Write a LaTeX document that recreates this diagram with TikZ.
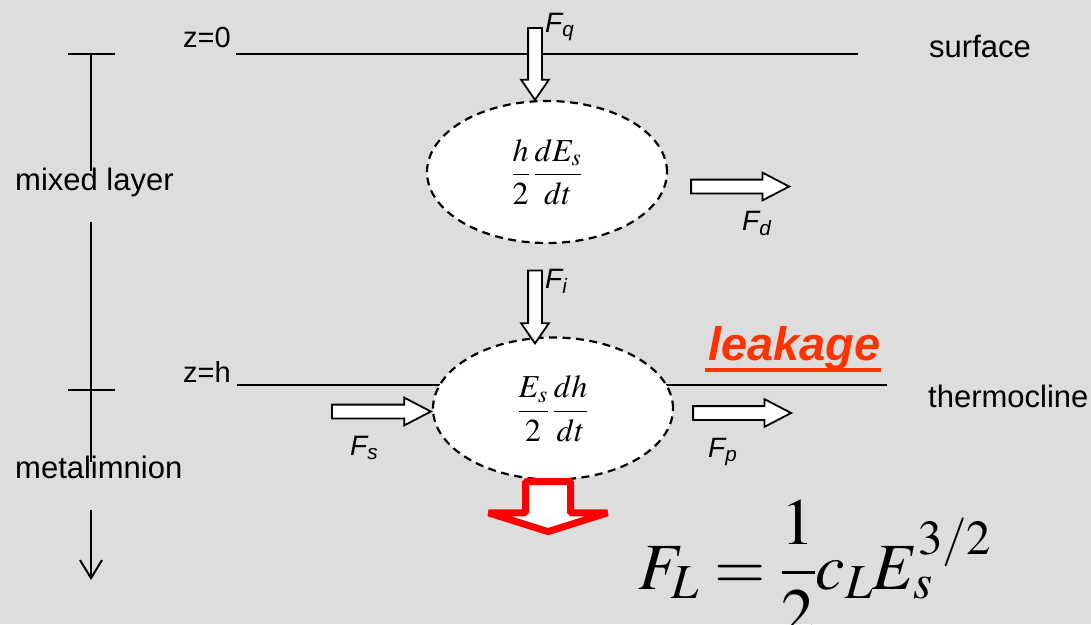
\documentclass[tikz,border=0pt]{standalone}
\usepackage{amsmath}
\usepackage{mathptmx}
\usepackage{fontspec}
\setmainfont{Liberation Sans}
\usetikzlibrary{arrows.meta,positioning,calc,shapes.geometric,shapes.arrows}
\definecolor{lkbg}{RGB}{221,221,221}
\definecolor{lkedge}{RGB}{0,0,0}
\definecolor{lkleak}{RGB}{255,51,0}
\definecolor{lkred}{RGB}{255,0,0}
\tikzset{
  lbl/.style={anchor=base west, inner sep=0pt, font=\fontsize{31}{36}\selectfont},
  zlbl/.style={lbl, font=\fontsize{29}{34}\selectfont},
  flux/.style={anchor=base west, inner sep=0pt, font=\fontsize{28}{32}\selectfont\itshape},
  budget/.style={
    ellipse, draw=lkedge, fill=white, line width=2.2pt,
    dash pattern=on 8pt off 5.5pt, minimum width=240pt, minimum height=142pt,
    inner sep=0pt, font=\fontsize{32}{38}\selectfont
  },
  blk/.style={
    single arrow, draw=lkedge, fill=white, line width=1.8pt,
    single arrow head extend=7pt, inner xsep=0pt, inner ysep=6pt,
    outer sep=0pt, line join=miter
  },
  vblk/.style={blk, single arrow tip angle=69, rotate=-90},
  hblk/.style={blk, single arrow tip angle=55},
  leakarr/.style={
    single arrow, draw=lkred, fill=white, line width=7pt,
    single arrow head extend=37pt, inner xsep=0pt, inner ysep=19pt,
    single arrow tip angle=145, outer sep=0pt,
    line join=bevel, rotate=-90
  },
  level/.style={draw=lkedge, line width=2.5pt},
  axis/.style={draw=lkedge, line width=2.7pt},
  down/.style={draw=lkedge, line width=2pt, -{Straight Barb[length=18pt,width=22pt]}}
}
\begin{document}
\begin{tikzpicture}[x=1pt, y=-1pt]
  \fill[lkbg] (0,0) rectangle (1091,624);
  \useasboundingbox (0,0) rectangle (1091,624);

  % depth axis on the left
  \coordinate (ztop) at (91,54);
  \coordinate (zmix) at (91,171);
  \coordinate (zmid) at (91,222);
  \coordinate (zhb) at (91,390);
  \coordinate (zbot) at (91,462);
  \coordinate (zarr) at (91,510);
  \coordinate (zend) at (91,580);
  \draw[axis] (ztop) -- (zmix);
  \draw[axis] (zmid) -- (zbot);
  \draw[axis] ($(ztop)+(-23,0)$) -- ($(ztop)+(24,0)$);
  \draw[axis] ($(zhb)+(-23,0)$) -- ($(zhb)+(24,0)$);
  \draw[down] (zarr) -- (zend);
  \node[lbl] (mixed) at (15,190) {mixed layer};
  \node[lbl] (meta) at (15,478) {metalimnion};

  % surface and thermocline
  \node[zlbl] (z0) at (183,47) {z=0};
  \node[zlbl] (zh) at (183,382) {z=h};
  \coordinate (s0) at (236,54);
  \coordinate (s1) at (858,54);
  \coordinate (t0) at (237,385);
  \coordinate (t1) at (887,385);
  \draw[level] (s0) -- (s1);
  \draw[level] (t0) -- (t1);
  \node[lbl] (surf) at (929,57) {surface};
  \node[lbl] (thermo) at (928,407) {thermocline};

  % budget terms
  \node[budget] (mix) at (547,172) {$\dfrac{h}{2}\,\dfrac{dE_s}{dt}$};
  \node[budget] (ent) at (553,408.5) {$\dfrac{E_s}{2}\,\dfrac{dh}{dt}$};

  % fluxes
  \node[vblk, minimum height=72pt, anchor=tip] (fq) at ($(mix.north)+(-12,0)$) {};
  \node[vblk, minimum height=73pt, anchor=tip] (fi) at ($(ent.north)+(-18,7)$) {};
  \node[hblk, minimum height=98pt, anchor=tail] (fd) at ($(mix.east)+(23,14.5)$) {};
  \node[hblk, minimum height=99pt, anchor=tip] (fs) at ($(ent.west)+(-1,3)$) {};
  \node[hblk, minimum height=98pt, anchor=tail] (fp) at ($(ent.east)+(19,4.5)$) {};
  \node[leakarr, minimum height=50pt, anchor=tail] (fl) at ($(ent.south)+(-5,1)$) {};

  \node[flux] (fqlab) at (545,32) {F\textsubscript{q}};
  \node[flux] (filab) at (545,288) {F\textsubscript{i}};
  \node[flux] (fdlab) at (742,230) {F\textsubscript{d}};
  \node[flux] (fslab) at (350,455) {F\textsubscript{s}};
  \node[flux] (fplab) at (708,457) {F\textsubscript{p}};

  % leakage
  \node[anchor=base west, inner sep=0pt, text=lkleak,
    font=\fontsize{47}{52}\selectfont\bfseries\itshape] (leak) at (708,360) {leakage};
  \draw[lkleak, line width=4pt] ($(leak.base west)+(-3,10)$) -- ($(leak.base east)+(0,10)$);
  \node[anchor=base west, inner sep=0pt, font=\fontsize{66}{76}\selectfont] (fL) at (638,589)
    {$F_L=\dfrac{1}{2}c_L E_s^{3/2}$};
\end{tikzpicture}
\end{document}
